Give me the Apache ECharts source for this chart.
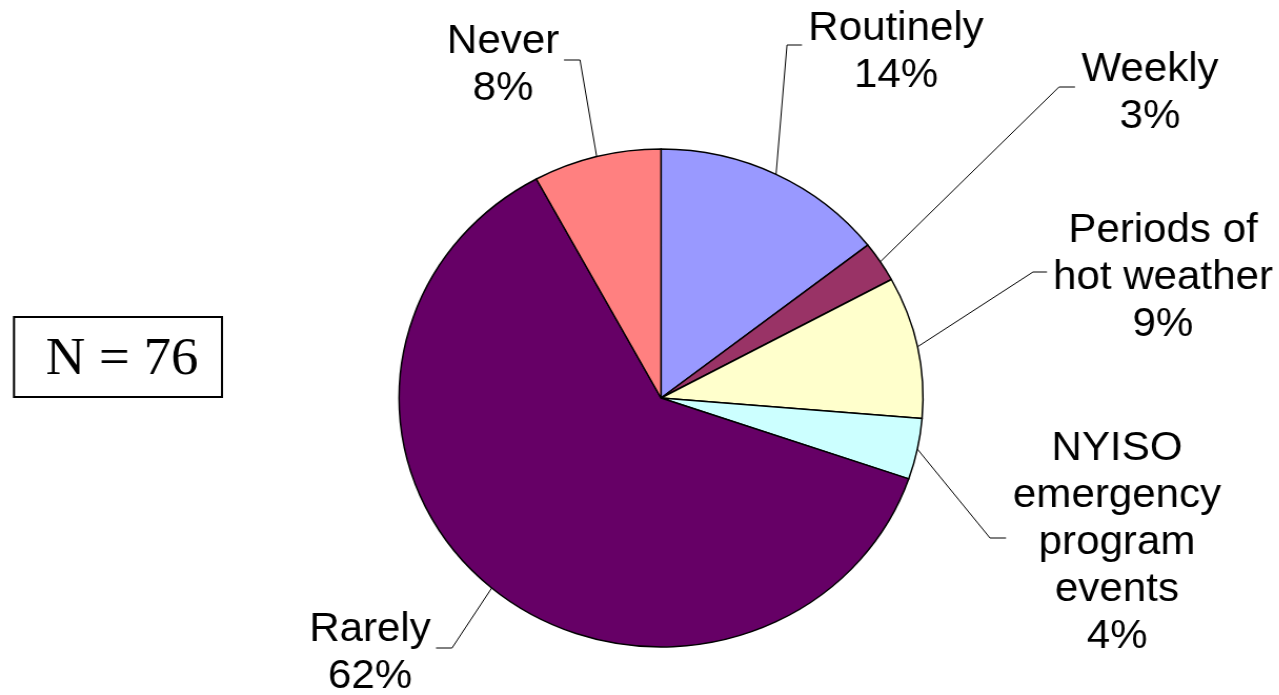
<!DOCTYPE html>
<html>
<head>
<meta charset="utf-8">
<script src="https://cdn.jsdelivr.net/npm/echarts@6/dist/echarts.min.js"></script>
<style>
  html, body { margin: 0; padding: 0; background: #ffffff; overflow: hidden; }
  #chart { width: 1216px; height: 695px; transform: scaleX(1.052); transform-origin: 0 0; }
</style>
</head>
<body>
<div id="chart"></div>
<script>
// ---- data ----
const categories = ['Routinely', 'Weekly', 'Periods of\nhot weather', 'NYISO\nemergency\nprogram\nevents', 'Rarely', 'Never'];
const counts = [11, 2, 7, 3, 47, 6];   // respondents, N = 76
const colors = ['#9999FF', '#993366', '#FFFFCC', '#CCFFFF', '#660066', '#FF8080'];
const sampleLabel = 'N = 76';

// ---- layout / style (reference pixel coords) ----
const SX = 1.052; // horizontal stretch of the original (elliptical pie)
const labelPos = [      // label block centre
  [896, 52], [1150, 93], [1163, 278], [1117, 543], [370, 653], [503, 65]
];
const elbowPos = [
  [[787, 45], [802, 45]],
  [[1059, 87], [1075, 87]],
  [[1033, 272], [1047, 272]],
  [[990, 538], [1006, 538]],
  [[452, 648], [436, 648]],
  [[580, 60], [564, 60]]
];

const chart = echarts.init(document.getElementById('chart'), null, { renderer: 'canvas' });
const fx = v => v / SX;

chart.setOption({
  backgroundColor: '#ffffff',
  animation: false,
  color: colors,
  graphic: [
    {
      type: 'rect',
      shape: { x: fx(14), y: 317, width: fx(222) - fx(14), height: 80 },
      style: { fill: '#ffffff', stroke: '#000000', lineWidth: 2 }
    },
    {
      type: 'text',
      x: fx(122), y: 360,
      style: {
        text: sampleLabel,
        fontFamily: '"Liberation Serif", "Times New Roman", serif',
        fontSize: 52,
        fill: '#000000',
        align: 'center',
        verticalAlign: 'middle'
      }
    }
  ],
  series: [{
    type: 'pie',
    center: [fx(661), 398],
    radius: 249,
    startAngle: 90,
    clockwise: true,
    avoidLabelOverlap: false,
    itemStyle: { borderColor: '#000000', borderWidth: 1.5 },
    emphasis: { disabled: true },
    label: {
      show: true,
      position: 'outside',
      formatter: p => p.name + '\n' + Math.round(p.percent) + '%',
      fontFamily: '"Liberation Sans", Arial, sans-serif',
      fontSize: 40,
      lineHeight: 47,
      color: '#000000',
      align: 'center'
    },
    labelLine: {
      show: true,
      length: 20,
      length2: 15,
      smooth: false,
      lineStyle: { color: '#000000', width: 1 }
    },
    labelLayout: function (params) {
      const i = params.dataIndex;
      const lp = labelPos[i];
      const el = elbowPos[i];
      let start;
      if (params.labelLinePoints && params.labelLinePoints[0]) {
        start = params.labelLinePoints[0];
      } else {
        start = [params.rect.x + params.rect.width / 2, params.rect.y + params.rect.height / 2];
      }
      return {
        x: fx(lp[0]),
        y: lp[1],
        align: 'center',
        verticalAlign: 'middle',
        labelLinePoints: [
          [start[0], start[1]],
          [fx(el[0][0]), el[0][1]],
          [fx(el[1][0]), el[1][1]]
        ]
      };
    },
    data: categories.map((c, i) => ({ name: c, value: counts[i] }))
  }]
});
</script>
</body>
</html>
